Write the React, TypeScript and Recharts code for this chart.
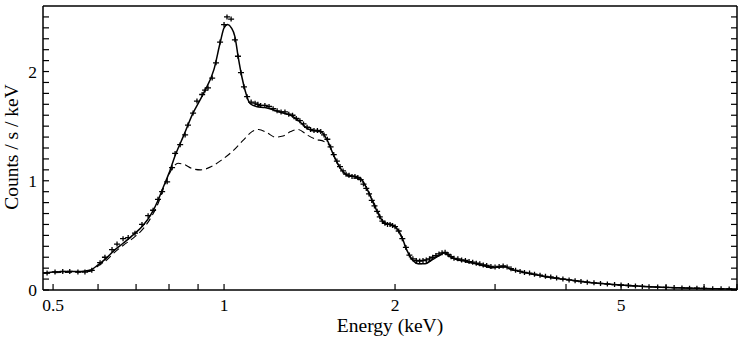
import { ComposedChart, Line, Scatter, XAxis, YAxis } from "recharts";

// model (solid), energies in keV
const modelEnergy = [
  0.48, 0.5, 0.53, 0.56, 0.58, 0.6, 0.62, 0.64, 0.665, 0.69, 0.72, 0.745, 0.765, 0.78, 0.8, 0.82,
  0.85, 0.88, 0.92, 0.96, 0.985, 1.0, 1.015, 1.03, 1.045, 1.06, 1.075, 1.09, 1.11, 1.14, 1.18,
  1.22, 1.27, 1.31, 1.36, 1.4, 1.43, 1.48, 1.52, 1.56, 1.6, 1.65, 1.7, 1.74, 1.78, 1.83, 1.88,
  1.92, 1.97, 2.0, 2.05, 2.1, 2.15, 2.2, 2.26, 2.33, 2.4, 2.45, 2.5, 2.56, 2.65, 2.75, 2.85,
  2.95, 3.05, 3.12, 3.2, 3.35, 3.5, 3.7, 3.95, 4.25, 4.6, 5.0, 5.5, 6.0, 6.5, 7.0, 7.5, 8.0,
];
const modelCounts = [
  0.155, 0.165, 0.17, 0.17, 0.18, 0.23, 0.29, 0.36, 0.43, 0.5, 0.59, 0.7, 0.82, 0.93, 1.07, 1.23,
  1.42, 1.61, 1.8, 2.02, 2.27, 2.4, 2.43, 2.4, 2.32, 2.12, 1.95, 1.82, 1.71, 1.68, 1.67,
  1.65, 1.62, 1.6, 1.54, 1.48, 1.46, 1.45, 1.37, 1.23, 1.12, 1.05, 1.04, 1.02, 0.94, 0.8, 0.67,
  0.61, 0.6, 0.58, 0.5, 0.36, 0.27, 0.24, 0.24, 0.28, 0.32, 0.34, 0.31, 0.28, 0.265, 0.245, 0.225,
  0.205, 0.21, 0.215, 0.19, 0.165, 0.145, 0.12, 0.1, 0.078, 0.06, 0.045, 0.032, 0.024, 0.018, 0.014, 0.011, 0.008,
];

// second component (dashed)
const compEnergy = [
  0.48, 0.55, 0.58, 0.6, 0.62, 0.64, 0.665, 0.69, 0.72, 0.745, 0.765, 0.79, 0.81, 0.83, 0.85, 0.88,
  0.91, 0.95, 0.99, 1.04, 1.08, 1.12, 1.15, 1.19, 1.23, 1.27, 1.31, 1.35, 1.4, 1.45, 1.5, 1.53,
  1.57, 1.62, 1.67, 1.72, 1.76, 1.8, 1.85, 1.9, 1.95, 2.0, 2.05, 2.1, 2.15, 2.2, 2.26, 2.33, 2.4,
  2.45, 2.5, 2.56, 2.65, 2.75, 2.85, 2.95, 3.05, 3.12, 3.2, 3.35, 3.5, 3.7, 3.95, 4.25, 4.6, 5.0,
  5.5, 6.0, 6.5, 7.0, 7.5, 8.0,
];
const compCounts = [
  0.155, 0.165, 0.17, 0.22, 0.27, 0.34, 0.41, 0.47, 0.56, 0.67, 0.79, 0.99, 1.11, 1.16, 1.15, 1.11,
  1.1, 1.13, 1.19, 1.28, 1.37, 1.45, 1.47, 1.44, 1.4, 1.41, 1.45, 1.47, 1.42, 1.38, 1.36, 1.33,
  1.2, 1.08, 1.03, 1.02, 0.98, 0.89, 0.76, 0.64, 0.6, 0.58, 0.49, 0.36, 0.27, 0.24, 0.245, 0.28, 0.32,
  0.335, 0.305, 0.28, 0.26, 0.243, 0.223, 0.203, 0.208, 0.212, 0.188, 0.163, 0.143, 0.118, 0.099, 0.077, 0.059, 0.044,
  0.031, 0.023, 0.017, 0.013, 0.01, 0.007,
];

// observed spectrum (crosses)
const obsEnergy = [
  0.488, 0.504, 0.52, 0.535, 0.553, 0.569, 0.585, 0.605, 0.617, 0.635, 0.648, 0.664, 0.678, 0.697,
  0.717, 0.735, 0.75, 0.765, 0.778, 0.794, 0.81, 0.82, 0.837, 0.854, 0.864, 0.882, 0.896, 0.915,
  0.926, 0.937, 0.953, 0.968, 0.984, 1.0, 1.012, 1.029, 1.045, 1.058, 1.071, 1.084, 1.098, 1.116,
  1.134, 1.147, 1.16, 1.18, 1.2, 1.22, 1.24, 1.26, 1.28, 1.3, 1.32, 1.34, 1.36, 1.38, 1.4, 1.42,
  1.44, 1.46, 1.48, 1.5, 1.52, 1.54, 1.56, 1.58, 1.6, 1.62, 1.64, 1.66, 1.68, 1.7, 1.72, 1.74,
  1.76, 1.78, 1.8, 1.82, 1.84, 1.86, 1.88, 1.9, 1.92, 1.94, 1.96, 1.98, 2.0, 2.03, 2.06, 2.09,
  2.12, 2.15, 2.18, 2.21, 2.24, 2.27, 2.3, 2.33, 2.36, 2.39, 2.42, 2.45, 2.48, 2.51, 2.54, 2.58,
  2.62, 2.66, 2.7, 2.74, 2.78, 2.82, 2.86, 2.9, 2.95, 3.0, 3.05, 3.1, 3.15, 3.2, 3.26, 3.32, 3.38,
  3.45, 3.52, 3.6, 3.68, 3.76, 3.85, 3.95, 4.05, 4.15, 4.25, 4.36, 4.48, 4.6, 4.73, 4.87, 5.0,
  5.15, 5.3, 5.45, 5.6, 5.8, 6.0, 6.2, 6.4, 6.6, 6.8, 7.0, 7.25, 7.5, 7.75, 8.0,
];
const obsCounts = [
  0.155, 0.165, 0.17, 0.17, 0.165, 0.165, 0.18, 0.25, 0.3, 0.37, 0.42, 0.47, 0.48, 0.52,
  0.6, 0.68, 0.73, 0.83, 0.9, 0.99, 1.12, 1.25, 1.33, 1.42, 1.51, 1.62, 1.73, 1.79,
  1.83, 1.85, 1.94, 2.08, 2.27, 2.43, 2.5, 2.48, 2.29, 2.14, 1.99, 1.86, 1.77, 1.72,
  1.71, 1.7, 1.69, 1.69, 1.68, 1.66, 1.64, 1.63, 1.63, 1.61, 1.6, 1.57, 1.55, 1.52, 1.49, 1.47,
  1.46, 1.46, 1.45, 1.42, 1.38, 1.31, 1.24, 1.18, 1.13, 1.09, 1.06, 1.05, 1.04, 1.04, 1.03, 1.01,
  0.97, 0.93, 0.88, 0.82, 0.77, 0.72, 0.67, 0.63, 0.61, 0.6, 0.6, 0.59, 0.58, 0.54, 0.47, 0.39,
  0.32, 0.285, 0.27, 0.265, 0.27, 0.275, 0.285, 0.3, 0.315, 0.33, 0.34, 0.345, 0.325, 0.305, 0.29, 0.285,
  0.275, 0.27, 0.26, 0.255, 0.245, 0.24, 0.23, 0.225, 0.215, 0.21, 0.215, 0.22, 0.21, 0.195, 0.18, 0.17, 0.16,
  0.155, 0.145, 0.135, 0.125, 0.12, 0.11, 0.1, 0.092, 0.085, 0.078, 0.072, 0.066, 0.06, 0.055, 0.05, 0.046,
  0.041, 0.037, 0.033, 0.03, 0.027, 0.024, 0.022, 0.019, 0.017, 0.016, 0.014, 0.012, 0.011, 0.009, 0.008,
];

const xTicks = [0.5, 0.6, 0.7, 0.8, 0.9, 1, 2, 3, 4, 5, 6, 7, 8];
const xLabels = [0.5, 1, 2, 5];
const yTicks = [
  0, 0.1, 0.2, 0.3, 0.4, 0.5, 0.6, 0.7, 0.8, 0.9, 1, 1.1, 1.2, 1.3, 1.4, 1.5, 1.6, 1.7, 1.8, 1.9,
  2, 2.1, 2.2, 2.3, 2.4, 2.5,
];
const yLabels = [0, 1, 2];

const font = '"Liberation Serif", "Times New Roman", "DejaVu Serif", serif';
const textStyle = { fontFamily: font, fill: "#000" };
const TICK = 6;

const pairs = (xs: number[], ys: number[]) => xs.map((e, i) => ({ e, v: ys[i] }));
const modelData = pairs(modelEnergy, modelCounts);
const compData = pairs(compEnergy, compCounts);
const obsData = pairs(obsEnergy, obsCounts);

function BottomTick({ x, y, payload }: any) {
  const v = payload.value;
  return (
    <g>
      <line x1={x} x2={x} y1={y} y2={y - TICK} stroke="#000" strokeWidth={1.2} />
      {xLabels.includes(v) && (
        <text x={x} y={y + 21} textAnchor="middle" fontSize={17.5} style={textStyle}>
          {v}
        </text>
      )}
    </g>
  );
}

function TopTick({ x, y }: any) {
  return <line x1={x} x2={x} y1={y} y2={y + TICK} stroke="#000" strokeWidth={1.2} />;
}

function LeftTick({ x, y, payload }: any) {
  const v = payload.value;
  return (
    <g>
      <line x1={x} x2={x + TICK} y1={y} y2={y} stroke="#000" strokeWidth={1.2} />
      {yLabels.includes(v) && (
        <text x={x - 6} y={y + 6} textAnchor="end" fontSize={17.5} style={textStyle}>
          {v}
        </text>
      )}
    </g>
  );
}

function RightTick({ x, y }: any) {
  return <line x1={x} x2={x - TICK} y1={y} y2={y} stroke="#000" strokeWidth={1.2} />;
}

function Cross({ cx, cy }: any) {
  return (
    <path
      d={`M${cx - 3},${cy}H${cx + 3}M${cx},${cy - 2.5}V${cy + 2.5}`}
      stroke="#000"
      strokeWidth={1.3}
      fill="none"
    />
  );
}

export default function App() {
  return (
    <div style={{ position: "absolute", left: 0, top: 0, background: "#fff" }}>
      <ComposedChart width={747} height={343} margin={{ top: 0, right: 0, bottom: 0, left: 0 }}>
        <XAxis
          xAxisId="b"
          dataKey="e"
          type="number"
          scale="log"
          domain={[0.48, 8]}
          allowDataOverflow
          ticks={xTicks}
          interval={0}
          tickSize={0}
          tickMargin={0}
          tickLine={false}
          tick={(p: any) => <BottomTick {...p} />}
          height={53}
          axisLine={{ stroke: "#000", strokeWidth: 1.5 }}
          label={{
            content: () => (
              <text x={390} y={332} textAnchor="middle" fontSize={19.5} style={textStyle}>
                Energy (keV)
              </text>
            ),
          }}
        />
        <XAxis
          xAxisId="t"
          orientation="top"
          type="number"
          scale="log"
          domain={[0.48, 8]}
          allowDataOverflow
          ticks={xTicks}
          interval={0}
          tickSize={0}
          tickMargin={0}
          tickLine={false}
          tick={(p: any) => <TopTick {...p} />}
          height={6}
          axisLine={{ stroke: "#000", strokeWidth: 1.5 }}
        />
        <YAxis
          yAxisId="l"
          dataKey="v"
          type="number"
          domain={[0, 2.6]}
          allowDataOverflow
          ticks={yTicks}
          interval={0}
          tickSize={0}
          tickMargin={0}
          tickLine={false}
          tick={(p: any) => <LeftTick {...p} />}
          width={43}
          axisLine={{ stroke: "#000", strokeWidth: 1.5 }}
          label={{
            content: () => (
              <text
                x={18}
                y={147}
                transform="rotate(-90 18 147)"
                textAnchor="middle"
                fontSize={19.5}
                style={textStyle}
              >
                Counts / s / keV
              </text>
            ),
          }}
        />
        <YAxis
          yAxisId="r"
          orientation="right"
          type="number"
          domain={[0, 2.6]}
          allowDataOverflow
          ticks={yTicks}
          interval={0}
          tickSize={0}
          tickMargin={0}
          tickLine={false}
          tick={(p: any) => <RightTick {...p} />}
          width={10}
          axisLine={{ stroke: "#000", strokeWidth: 1.5 }}
        />
        <Line
          xAxisId="b"
          yAxisId="l"
          data={compData}
          dataKey="v"
          type="monotone"
          dot={false}
          stroke="#000"
          strokeWidth={1.1}
          strokeDasharray="7 4"
          isAnimationActive={false}
        />
        <Scatter
          xAxisId="b"
          yAxisId="l"
          data={obsData}
          dataKey="v"
          shape={(p: any) => <Cross {...p} />}
          isAnimationActive={false}
        />
        <Line
          xAxisId="b"
          yAxisId="l"
          data={modelData}
          dataKey="v"
          type="monotone"
          dot={false}
          stroke="#000"
          strokeWidth={1.5}
          isAnimationActive={false}
        />
      </ComposedChart>
    </div>
  );
}
